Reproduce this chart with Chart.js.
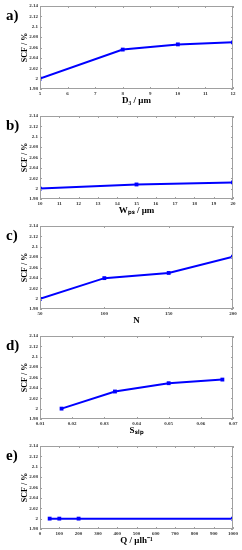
<!DOCTYPE html>
<html>
<head>
<meta charset="utf-8">
<script src="https://cdn.jsdelivr.net/npm/chart.js@4"></script>
<style>
  body { margin: 0; background: #fff; }
  #wrap { position: relative; width: 242px; height: 550px; }
  canvas { position: absolute; left: 0; }
  .lbl { position: absolute; left: 6px; font: bold 15px "Liberation Serif", serif; line-height: 1; color: #000; }
</style>
</head>
<body>
<div id="wrap"></div>
<script>
// datos
const panelLabels = ['a)', 'b)', 'c)', 'd)', 'e)'];
const xTitles = ['D\u2083 / \u03bcm', 'W\u209a\u209b / \u03bcm', 'N', 'S\u209b\u2097\u209a', 'Q / \u03bclh\u207b\u00b9'];

const d3Values = [5, 8, 10, 12];
const scfD3 = [2.0, 2.056, 2.066, 2.070];

const wpsValues = [10, 15, 20];
const scfWps = [2.0, 2.008, 2.012];

const nValues = [50, 100, 150, 200];
const scfN = [1.9995, 2.0395, 2.0495, 2.081];

const slpValues = [0.0167, 0.0333, 0.05, 0.0667];
const scfSlp = [2.0, 2.033, 2.049, 2.056];

const qValues = [50, 100, 200, 1000];
const scfQ = [2.0, 2.0, 2.0, 2.0];

const yMin = 1.98, yMax = 2.14, yStep = 0.02;
const xRanges = [[5, 12, 1], [10, 20, 1], [50, 200, 50], [0.01, 0.07, 0.01], [0, 1000, 100]];

const xSeries = [d3Values, wpsValues, nValues, slpValues, qValues];
const ySeries = [scfD3, scfWps, scfN, scfSlp, scfQ];

const fmt = v => parseFloat(Number(v).toFixed(3)).toString();

// caja estilo MATLAB con marcas hacia dentro
const boxPlugin = {
  id: 'box',
  afterDraw(chart) {
    const {ctx, chartArea: a, scales} = chart;
    ctx.save();
    ctx.strokeStyle = '#a0a0a0';
    ctx.lineWidth = 1;
    ctx.strokeRect(a.left + 0.5, a.top + 0.5, a.right - a.left - 1, a.bottom - a.top - 1);
    ctx.beginPath();
    scales.x.ticks.forEach(t => {
      const px = Math.round(scales.x.getPixelForValue(t.value)) + 0.5;
      ctx.moveTo(px, a.bottom); ctx.lineTo(px, a.bottom - 2);
      ctx.moveTo(px, a.top); ctx.lineTo(px, a.top + 2);
    });
    scales.y.ticks.forEach(t => {
      const py = Math.round(scales.y.getPixelForValue(t.value)) + 0.5;
      ctx.moveTo(a.left, py); ctx.lineTo(a.left + 2, py);
      ctx.moveTo(a.right, py); ctx.lineTo(a.right - 2, py);
    });
    ctx.stroke();
    ctx.restore();
  }
};

const wrap = document.getElementById('wrap');

panelLabels.forEach((lab, i) => {
  const cv = document.createElement('canvas');
  cv.width = 242; cv.height = 110;
  cv.style.top = (i * 110) + 'px';
  wrap.appendChild(cv);

  const div = document.createElement('div');
  div.className = 'lbl';
  div.style.top = (i * 110 + 8) + 'px';
  div.textContent = lab;
  wrap.appendChild(div);

  const [xmin, xmax, xstep] = xRanges[i];
  new Chart(cv.getContext('2d'), {
    type: 'line',
    data: {
      datasets: [{
        data: xSeries[i].map((x, j) => ({x: x, y: ySeries[i][j]})),
        borderColor: '#0000ff',
        backgroundColor: '#0000ff',
        borderWidth: 2,
        pointStyle: 'rect',
        pointRadius: 1.3,
        tension: 0
      }]
    },
    options: {
      responsive: false,
      animation: false,
      layout: { padding: { top: 5, right: 9, left: 0, bottom: 0 } },
      plugins: { legend: { display: false }, tooltip: { enabled: false } },
      scales: {
        x: {
          type: 'linear',
          min: xmin, max: xmax,
          grid: { display: false, drawTicks: false },
          border: { display: false },
          afterFit: s => { s.height = 21; },
          ticks: {
            stepSize: xstep, padding: 2, maxRotation: 0, autoSkip: false,
            color: '#333', font: { family: 'Liberation Serif', size: 5, weight: 'bold' },
            callback: v => fmt(v)
          },
          title: {
            display: true, text: xTitles[i], color: '#000',
            font: { family: 'Liberation Serif', size: 9, weight: 'bold' },
            padding: { top: 0, bottom: 4 }
          }
        },
        y: {
          min: yMin, max: yMax,
          grid: { display: false, drawTicks: false },
          border: { display: false },
          afterFit: s => { s.width = 40; },
          ticks: {
            stepSize: yStep, padding: 2, autoSkip: false,
            color: '#333', font: { family: 'Liberation Serif', size: 5, weight: 'bold' },
            callback: v => fmt(v)
          },
          title: {
            display: true, text: 'SCF / %', color: '#000',
            font: { family: 'Liberation Serif', size: 8, weight: 'bold' },
            padding: { top: 20, bottom: 0 }
          }
        }
      }
    },
    plugins: [boxPlugin]
  });
});
</script>
</body>
</html>
